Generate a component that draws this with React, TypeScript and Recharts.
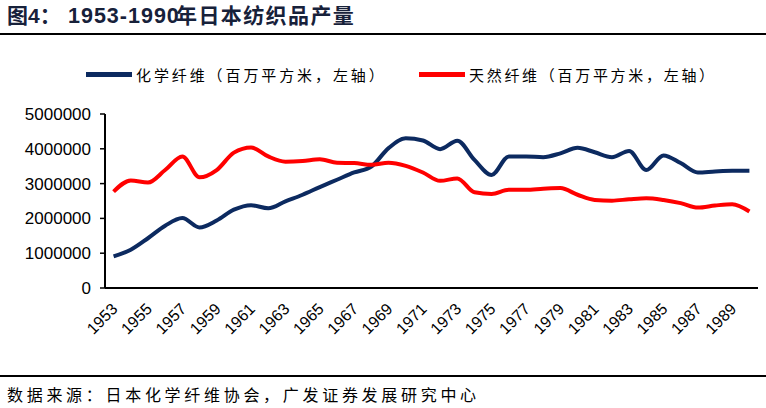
import { Line, LineChart, XAxis, YAxis } from "recharts";

// 年份（类目）
const years = [
  1953, 1954, 1955, 1956, 1957, 1958, 1959, 1960, 1961, 1962,
  1963, 1964, 1965, 1966, 1967, 1968, 1969, 1970, 1971, 1972,
  1973, 1974, 1975, 1976, 1977, 1978, 1979, 1980, 1981, 1982,
  1983, 1984, 1985, 1986, 1987, 1988, 1989, 1990,
];

// 化学纤维产量（百万平方米）
const chemicalFiber = [
  910000, 1100000, 1430000, 1790000, 2010000, 1740000, 1940000, 2250000, 2380000, 2290000,
  2490000, 2680000, 2900000, 3110000, 3320000, 3490000, 4020000, 4300000, 4240000, 3990000,
  4230000, 3680000, 3250000, 3780000, 3780000, 3760000, 3870000, 4030000, 3900000, 3760000,
  3940000, 3390000, 3810000, 3590000, 3320000, 3350000, 3370000, 3370000,
];

// 天然纤维产量（百万平方米）
const naturalFiber = [
  2770000, 3090000, 3030000, 3390000, 3780000, 3180000, 3390000, 3890000, 4040000, 3780000,
  3630000, 3650000, 3700000, 3600000, 3590000, 3540000, 3600000, 3510000, 3320000, 3080000,
  3150000, 2750000, 2700000, 2820000, 2820000, 2850000, 2870000, 2680000, 2530000, 2510000,
  2550000, 2580000, 2530000, 2440000, 2310000, 2370000, 2410000, 2200000,
];

const yearLabels = [1953, 1955, 1957, 1959, 1961, 1963, 1965, 1967, 1969, 1971, 1973, 1975, 1977, 1979, 1981, 1983, 1985, 1987, 1989];
const valueTicks = [0, 1000000, 2000000, 3000000, 4000000, 5000000];

const seriesNames = ["化学纤维（百万平方米，左轴）", "天然纤维（百万平方米，左轴）"];
const titleParts = ["图4：", "1953-1990", "年日本纺织品产量"];
const sourceText = "数据来源：日本化学纤维协会，广发证券发展研究中心";

const NAVY = "#0c2a60";
const RED = "#ff0000";
const LATIN = '"Liberation Sans", Arial, sans-serif';
const CJK = '"Noto Sans CJK SC", sans-serif';
const TITLE_FONT = '"Liberation Sans", Arial, "Noto Sans CJK SC", sans-serif';

const data = years.map((year, i) => ({ year, chem: chemicalFiber[i], natural: naturalFiber[i] }));
// Excel 式刻度线落在类目之间
const boundaryTicks = years.map((y) => y - 0.5).concat(years[years.length - 1] + 0.5);

function YearTick({ x, y, payload }: { x?: number; y?: number; payload?: { value: number } }) {
  return (
    <g transform={`translate(${(x ?? 0) + 5},${(y ?? 0) + 22})`}>
      <text transform="rotate(-45)" textAnchor="end" fontSize={16} fontFamily={LATIN} fill="#000">
        {payload?.value}
      </text>
    </g>
  );
}

function LegendItem({ color, label, left, spacing }: { color: string; label: string; left: number; spacing: number }) {
  return (
    <div style={{ position: "absolute", top: 64, left, display: "flex", alignItems: "center", height: 20 }}>
      <span style={{ display: "inline-block", width: 46, height: 5, background: color }} />
      <span style={{ marginLeft: 4, fontFamily: CJK, fontSize: 15, letterSpacing: spacing, color: "#000", whiteSpace: "nowrap" }}>
        {label}
      </span>
    </div>
  );
}

const titleStyle = {
  position: "absolute" as const,
  top: 5,
  fontFamily: TITLE_FONT,
  fontWeight: "bold" as const,
  lineHeight: "22px",
  color: "#17213a",
  whiteSpace: "nowrap" as const,
};

export default function App() {
  return (
    <div style={{ position: "absolute", left: 0, top: 0, width: 766, height: 408, background: "#fff", overflow: "hidden" }}>
      <span style={{ ...titleStyle, left: 7, fontSize: 21 }}>{titleParts[0]}</span>
      <span style={{ ...titleStyle, left: 68, fontSize: 21.5, letterSpacing: 1 }}>{titleParts[1]}</span>
      <span style={{ ...titleStyle, left: 176, fontSize: 21, letterSpacing: 1.4 }}>{titleParts[2]}</span>
      <div style={{ position: "absolute", left: 0, top: 33, width: 766, height: 2, background: "#000" }} />

      <LegendItem color={NAVY} label={seriesNames[0]} left={86} spacing={2.9} />
      <LegendItem color={RED} label={seriesNames[1]} left={419} spacing={2.7} />

      <div style={{ position: "absolute", left: 0, top: 0 }}>
        <LineChart width={766} height={408} data={data} margin={{ top: 114, right: 8, bottom: 60, left: 0 }}>
          <XAxis
            xAxisId="bounds"
            dataKey="year"
            type="number"
            domain={[1952.5, 1990.5]}
            ticks={boundaryTicks}
            tick={false}
            tickSize={5}
            height={0}
            axisLine={false}
            tickLine={{ stroke: "#000", strokeWidth: 1.5 }}
            allowDataOverflow
          />
          <XAxis
            dataKey="year"
            type="number"
            domain={[1952.5, 1990.5]}
            ticks={yearLabels}
            interval={0}
            tick={<YearTick />}
            tickLine={false}
            tickSize={0}
            tickMargin={0}
            height={60}
            axisLine={{ stroke: "#000", strokeWidth: 2 }}
            allowDataOverflow
          />
          <YAxis
            domain={[0, 5000000]}
            ticks={valueTicks}
            interval={0}
            width={105}
            tickSize={5}
            tickMargin={9}
            axisLine={{ stroke: "#000", strokeWidth: 2 }}
            tickLine={{ stroke: "#000", strokeWidth: 1.5 }}
            tick={{ fontSize: 17, fontFamily: LATIN, fill: "#000" }}
          />
          <Line
            type="monotone"
            dataKey="chem"
            name={seriesNames[0]}
            stroke={NAVY}
            strokeWidth={4}
            dot={false}
            isAnimationActive={false}
          />
          <Line
            type="monotone"
            dataKey="natural"
            name={seriesNames[1]}
            stroke={RED}
            strokeWidth={4}
            dot={false}
            isAnimationActive={false}
          />
        </LineChart>
      </div>

      <div style={{ position: "absolute", left: 0, top: 375, width: 766, height: 1.5, background: "#000" }} />
      <div
        style={{
          position: "absolute",
          left: 7,
          top: 384,
          fontFamily: CJK,
          fontSize: 16,
          lineHeight: "20px",
          letterSpacing: 3.7,
          color: "#000",
          whiteSpace: "nowrap",
        }}
      >
        {sourceText}
      </div>
    </div>
  );
}
